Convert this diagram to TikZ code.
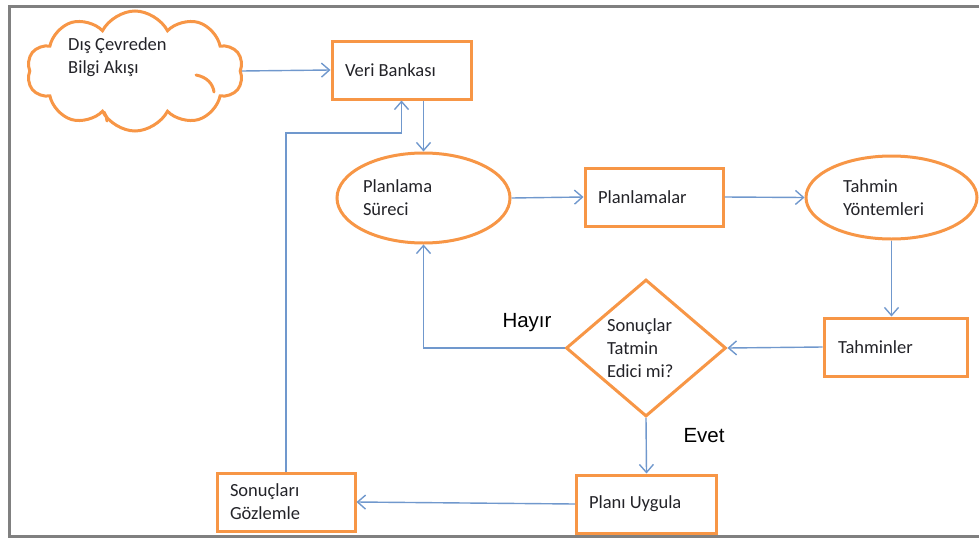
\documentclass[tikz,border=0pt]{standalone}
\usepackage{fontspec}
\setmainfont{Carlito}
\newfontfamily\answerfont{Liberation Sans}
\usetikzlibrary{shapes.geometric,shapes.symbols,arrows.meta}
\definecolor{boxorange}{RGB}{247,150,70}
\definecolor{flowblue}{RGB}{112,152,205}
\definecolor{framegray}{RGB}{128,128,128}
\definecolor{ink}{RGB}{35,35,40}
\begin{document}
\begin{tikzpicture}[x=1pt,y=-1pt,
  shapeline/.style={draw=boxorange, line width=3pt, text=ink, align=flush left,
    font=\fontsize{18.5}{23}\selectfont, inner sep=0pt},
  box/.style={shapeline, rectangle, minimum height=58pt},
  oval/.style={shapeline, ellipse},
  puffline/.style={draw=boxorange, line width=3pt, line cap=round},
  flow/.style={draw=flowblue, line width=1.4pt, -{Straight Barb[length=8pt,width=14pt]}},
  answer/.style={font=\answerfont\fontsize{20.5}{24}\selectfont, text=black, inner sep=0pt}
]
\useasboundingbox (0,0) rectangle (979,538);
% page frame (open on the right)
\draw[framegray, line width=3pt] (979,6) -- (9.5,6) -- (9.5,536.5) -- (979,536.5);

% cloud with its inner puff folds
\node[shapeline, cloud, cloud puffs=10, cloud puff arc=125, aspect=1.75,
      minimum width=216pt, minimum height=120pt] (cloud) at (135,71) {};
\draw[puffline] (196,75) .. controls (207,77) and (213,84) .. (214,92);
\draw[puffline] (104,112) .. controls (106,115) and (107,118) .. (107,121);
\node[text=ink, font=\fontsize{18.5}{23}\selectfont, align=flush left, anchor=west,
      inner sep=0pt] (cloudtext) at (68,57.5) {Dış Çevreden\\Bilgi Akışı};

\node[box, minimum width=139pt, text width=113pt] (veri) at (401.5,70) {Veri Bankası};
\node[oval, minimum width=173pt, minimum height=90pt, text width=121pt] (plan) at (423.5,198) {Planlama\\Süreci};
\node[box, minimum width=138pt, text width=112pt] (plans) at (654,197) {Planlamalar};
\node[oval, minimum width=171pt, minimum height=83pt, text width=97pt] (tahy) at (891.5,197.5) {Tahmin\\Yöntemleri};
\node[box, minimum width=143pt, text width=115pt] (tahm) at (895.5,347) {Tahminler};
\node[shapeline, diamond, minimum width=160pt, minimum height=134pt, text width=78pt] (dec) at (646,348) {Sonuçlar\\Tatmin\\Edici mi?};
\node[box, minimum width=140pt, text width=115pt] (apply) at (646.5,504) {Planı Uygula};
\node[box, minimum width=138pt, text width=112pt] (obs) at (286,502) {Sonuçları\\Gözlemle};

% answers on the decision
\node[answer] (no) at (527,323) {Hayır};
\node[answer] (yes) at (704,436) {Evet};

% connectors
\coordinate (bend) at (401.5,133);
\draw[flow] (cloud.east) -- (veri.west);
\draw[flow] (plan.north |- veri.south) -- (plan.north);
\draw[flow] (plan.east) -- (plans.west);
\draw[flow] (plans.east) -- (tahy.west);
\draw[flow] (tahy.south) -- (tahy.south |- tahm.north);
\draw[flow] (tahm.west) -- (dec.east);
\draw[flow] (dec.west) -| (plan.south);
\draw[flow] (dec.south) -- (apply.north);
\draw[flow] (apply.west) -- (obs.east);
\draw[flow] (obs.north) |- (bend) -- (veri.south);
\end{tikzpicture}
\end{document}
